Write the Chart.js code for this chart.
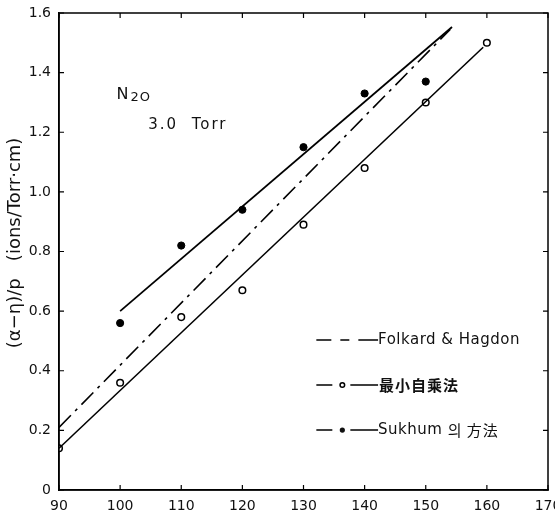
<!DOCTYPE html>
<html><head><meta charset="utf-8">
<script src="https://cdn.jsdelivr.net/npm/chart.js@4"></script>
<style>html,body{margin:0;padding:0;background:#fff}#wrap{width:555px;height:518px}</style>
</head><body><div id="wrap"><canvas id="c" width="555" height="518"></canvas></div>
<script>
const xTicks = [90,100,110,120,130,140,150,160,170];
const yTicks = [0,0.2,0.4,0.6,0.8,1.0,1.2,1.4,1.6];
const lsqX = [90,100,110,120,130,140,150,160];
const lsqValues = [0.14,0.36,0.58,0.67,0.89,1.08,1.30,1.50];
const sukhumX = [100,110,120,130,140,150];
const sukhumValues = [0.56,0.82,0.94,1.15,1.33,1.37];
const folkardLineX = [90,154];
const folkardLineY = [0.21,1.545];
const lsqLineX = [90,159.4];
const lsqLineY = [0.14,1.485];
const sukhumLineX = [100,154.3];
const sukhumLineY = [0.60,1.553];
const legendLabels = ['Folkard & Hagdon','最小自乘法','Sukhum 의 方法'];
const yTitle = '\u00a0\u00a0\u00a0(α−η)/p   (ions/Torr·cm)';

const pts = (xs, ys) => xs.map((x,i)=>({x:x,y:ys[i]}));
const FONT = '"DejaVu Sans", sans-serif';

const framePlugin = {
  id:'frame',
  afterDatasetsDraw(chart){
    const {ctx, chartArea:a, scales:{x,y}} = chart;
    ctx.save();
    ctx.setLineDash([]);
    ctx.strokeStyle='#000'; ctx.lineWidth=1.5;
    ctx.strokeRect(a.left,a.top,a.right-a.left,a.bottom-a.top);
    ctx.lineWidth=1.2;
    ctx.beginPath();
    xTicks.forEach(v=>{const px=x.getPixelForValue(v);
      ctx.moveTo(px,a.bottom);ctx.lineTo(px,a.bottom-5);
      ctx.moveTo(px,a.top);ctx.lineTo(px,a.top+5);});
    yTicks.forEach(v=>{const py=y.getPixelForValue(v);
      ctx.moveTo(a.left,py);ctx.lineTo(a.left+5,py);
      ctx.moveTo(a.right,py);ctx.lineTo(a.right-5,py);});
    ctx.stroke();
    // annotations
    ctx.fillStyle='#111';
    ctx.textBaseline='middle';
    try{ctx.letterSpacing='1px';}catch(e){}
    ctx.font='16px '+FONT;
    const nx=x.getPixelForValue(99.4);
    ctx.fillText('N',nx,y.getPixelForValue(1.325));
    const nw=ctx.measureText('N').width;
    ctx.font='13px '+FONT;
    ctx.fillText('2O',nx+nw+1,y.getPixelForValue(1.315));
    try{ctx.letterSpacing='2px';}catch(e){}
    ctx.font='15px '+FONT;
    ctx.fillText('3.0  Torr',x.getPixelForValue(104.6),y.getPixelForValue(1.225));
    try{ctx.letterSpacing='0.5px';}catch(e){}
    // legend
    const lx0=x.getPixelForValue(132.1), tx=x.getPixelForValue(142.2);
    const rows=[0.503,0.352,0.201].map(v=>y.getPixelForValue(v));
    ctx.lineWidth=1.5; ctx.strokeStyle='#000';
    // row1 dashed
    ctx.beginPath();
    ctx.moveTo(lx0,rows[0]);ctx.lineTo(lx0+15,rows[0]);
    ctx.moveTo(lx0+24,rows[0]);ctx.lineTo(lx0+33,rows[0]);
    ctx.moveTo(lx0+42,rows[0]);ctx.lineTo(tx,rows[0]);
    ctx.stroke();
    // row2
    ctx.beginPath();ctx.moveTo(lx0,rows[1]);ctx.lineTo(lx0+16,rows[1]);
    ctx.moveTo(lx0+34,rows[1]);ctx.lineTo(tx,rows[1]);ctx.stroke();
    ctx.beginPath();ctx.arc(lx0+26,rows[1],2.3,0,Math.PI*2);ctx.stroke();
    // row3
    ctx.beginPath();ctx.moveTo(lx0,rows[2]);ctx.lineTo(lx0+16,rows[2]);
    ctx.moveTo(lx0+34,rows[2]);ctx.lineTo(tx,rows[2]);ctx.stroke();
    ctx.beginPath();ctx.arc(lx0+26,rows[2],2.6,0,Math.PI*2);ctx.fill();
    ctx.font='15px '+FONT;
    ctx.fillText(legendLabels[0],tx,rows[0]);
    try{ctx.letterSpacing='1px';}catch(e){}
    ctx.font='bold 15px "Noto Sans CJK KR", sans-serif';
    ctx.fillText(legendLabels[1],tx+1,rows[1]);
    try{ctx.letterSpacing='0.5px';}catch(e){}
    ctx.font='15px '+FONT;
    ctx.fillText('Sukhum',tx,rows[2]);
    const sw=ctx.measureText('Sukhum ').width;
    try{ctx.letterSpacing='1px';}catch(e){}
    ctx.font='15px "Noto Sans CJK KR", sans-serif';
    ctx.fillText('의 方法',tx+sw,rows[2]);
    ctx.restore();
  }
};

new Chart(document.getElementById('c'),{
  type:'scatter',
  data:{datasets:[
    {label:'folkard',data:pts(folkardLineX,folkardLineY),showLine:true,borderColor:'#000',borderWidth:1.6,borderDash:[17,6,3,6],pointRadius:0},
    {label:'lsqLine',data:pts(lsqLineX,lsqLineY),showLine:true,borderColor:'#000',borderWidth:1.6,pointRadius:0},
    {label:'sukhumLine',data:pts(sukhumLineX,sukhumLineY),showLine:true,borderColor:'#000',borderWidth:1.8,pointRadius:0},
    {label:legendLabels[1],data:pts(lsqX,lsqValues),showLine:false,pointRadius:3.3,pointBorderWidth:1.5,pointBorderColor:'#000',pointBackgroundColor:'#fff'},
    {label:legendLabels[2],data:pts(sukhumX,sukhumValues),showLine:false,pointRadius:3.6,pointBorderWidth:1,pointBorderColor:'#000',pointBackgroundColor:'#000'}
  ]},
  options:{
    responsive:false,animation:false,
    layout:{padding:{left:0,right:7,top:13,bottom:0}},
    plugins:{legend:{display:false},tooltip:{enabled:false}},
    scales:{
      x:{type:'linear',min:90,max:170,
        afterBuildTicks(s){s.ticks=xTicks.map(v=>({value:v}));},
        afterFit(s){s.height=28;s.paddingLeft=0;s.paddingRight=0;},
        grid:{display:false,drawTicks:false},
        border:{display:true,color:'#000',width:1.5},
        ticks:{color:'#111',font:{family:FONT,size:14},padding:8,maxRotation:0,callback:v=>String(v)}},
      y:{type:'linear',min:0,max:1.6,
        afterBuildTicks(s){s.ticks=yTicks.map(v=>({value:v}));},
        afterFit(s){s.width=59;s.paddingTop=0;s.paddingBottom=0;},
        grid:{display:false,drawTicks:false},
        border:{display:true,color:'#000',width:1.5},
        title:{display:true,text:yTitle,color:'#111',font:{family:FONT,size:18},padding:{top:5,bottom:0}},
        ticks:{color:'#111',font:{family:FONT,size:14},padding:8,callback:v=>v===0?'0':Number(v).toFixed(1)}}
    }
  },
  plugins:[framePlugin]
});
</script></body></html>
